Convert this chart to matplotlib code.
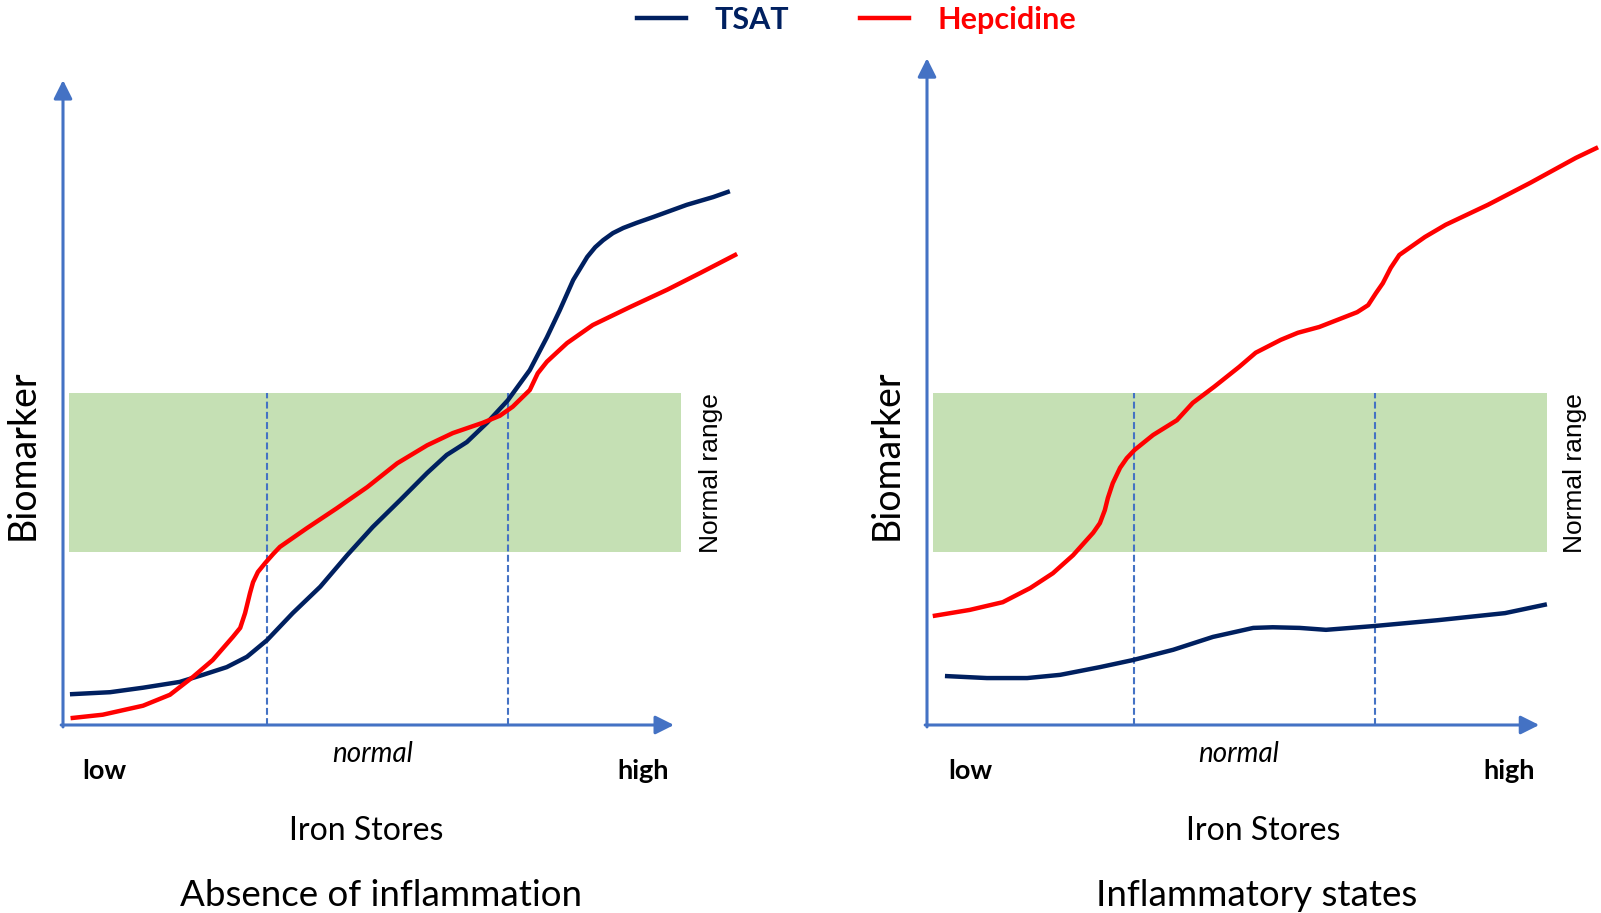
import matplotlib.pyplot as plt

plt.rcParams['font.family'] = ['Lato', 'DejaVu Sans']

# --- data (arbitrary units: x = iron stores 0..10, y = biomarker level) ---
left_tsat_x = [0.15, 0.77, 1.31, 1.91, 2.29, 2.68, 3.01, 3.34, 3.76, 4.21, 4.65, 5.07,
               5.52, 5.96, 6.28, 6.61, 6.94, 7.28, 7.64, 7.92, 8.13, 8.35, 8.58, 8.71,
               8.84, 9.00, 9.17, 9.39, 9.66, 10.21, 10.64, 10.88]
left_tsat_y = [0.48, 0.51, 0.58, 0.67, 0.78, 0.90, 1.06, 1.32, 1.74, 2.15, 2.64, 3.08,
               3.50, 3.92, 4.20, 4.40, 4.70, 5.05, 5.52, 6.03, 6.45, 6.92, 7.28, 7.43,
               7.54, 7.65, 7.73, 7.81, 7.90, 8.09, 8.21, 8.29]

left_hep_x = [0.16, 0.65, 1.31, 1.75, 2.13, 2.45, 2.78, 2.90, 2.98, 3.06, 3.11, 3.19,
              3.31, 3.44, 3.55, 3.99, 4.48, 4.98, 5.47, 5.96, 6.38, 6.87, 7.15, 7.36,
              7.64, 7.77, 7.92, 8.09, 8.25, 8.46, 8.67, 9.28, 9.89, 10.43, 11.0]
left_hep_y = [0.11, 0.16, 0.30, 0.47, 0.75, 1.01, 1.37, 1.51, 1.74, 2.05, 2.22, 2.38,
              2.52, 2.66, 2.77, 3.06, 3.37, 3.70, 4.07, 4.35, 4.54, 4.70, 4.81, 4.95,
              5.21, 5.47, 5.65, 5.80, 5.94, 6.08, 6.22, 6.50, 6.77, 7.03, 7.31]

right_tsat_x = [0.33, 0.98, 1.64, 2.18, 2.83, 3.37, 4.03, 4.68, 5.34, 5.66, 6.10, 6.53,
                7.33, 8.36, 9.46, 10.11]
right_tsat_y = [0.76, 0.73, 0.73, 0.78, 0.90, 1.01, 1.17, 1.37, 1.51, 1.52, 1.51, 1.48,
                1.54, 1.63, 1.74, 1.87]

right_hep_x = [0.13, 0.70, 1.24, 1.69, 2.06, 2.39, 2.72, 2.83, 2.91, 2.96, 3.04, 3.16,
               3.27, 3.40, 3.70, 4.09, 4.35, 4.70, 5.11, 5.38, 5.79, 6.07, 6.42, 7.04,
               7.22, 7.35, 7.46, 7.59, 7.73, 7.91, 8.15, 8.49, 9.18, 9.87, 10.62, 10.95]
right_hep_y = [1.70, 1.79, 1.91, 2.13, 2.36, 2.64, 2.99, 3.14, 3.34, 3.53, 3.76, 4.00,
               4.15, 4.28, 4.51, 4.74, 5.01, 5.26, 5.57, 5.79, 5.99, 6.10, 6.19, 6.42,
               6.53, 6.72, 6.87, 7.11, 7.31, 7.43, 7.59, 7.78, 8.09, 8.43, 8.82, 8.97]

band_low, band_high = 2.69, 5.16
left_normal = [3.34, 7.28]
right_normal = [3.39, 7.33]
titles = ['Absence of inflammation', 'Inflammatory states']

# colours
navy = '#002060'
red = '#FF0000'
blue = '#4472C4'
green = '#C5E0B4'

W, H = 1601, 913
XS, YS = 61.1, 64.3  # pixels per unit
XLIM = (-1.0, 11.2)
YLIM = (-3.0, 11.2)

fig = plt.figure(figsize=(W / 100, H / 100), dpi=100)


def make_panel(ox, oy):
    left = (ox + XLIM[0] * XS) / W
    width = (XLIM[1] - XLIM[0]) * XS / W
    bottom = (H - (oy - YLIM[0] * YS)) / H
    height = (YLIM[1] - YLIM[0]) * YS / H
    ax = fig.add_axes([left, bottom, width, height])
    ax.set_xlim(XLIM)
    ax.set_ylim(YLIM)
    ax.axis('off')
    return ax


def draw_panel(ax, tsat_x, tsat_y, hep_x, hep_y, normal, title, xs_label, x_title,
               ytop, xtip, band_right, dx):
    # normal range band
    ax.fill_between([0.1, band_right], band_low, band_high, color=green, lw=0, zorder=1)
    # normal iron store limits
    for xv in normal:
        ax.plot([xv, xv], [0, band_high], color=blue, lw=1.5, dashes=(3.3, 1.6), zorder=2)
    # axes arrows
    arrow = dict(arrowstyle='-|>,head_length=0.4,head_width=0.2', color=blue, lw=2.2,
                 mutation_scale=28, shrinkA=0, shrinkB=0)
    ax.annotate('', xy=(0, ytop), xytext=(0, -0.03), arrowprops=arrow, zorder=3)
    ax.annotate('', xy=(xtip, 0), xytext=(-0.03, 0), arrowprops=arrow, zorder=3)
    # curves
    l1, = ax.plot(tsat_x, tsat_y, color=navy, lw=3.2, zorder=4, label='TSAT',
                  solid_joinstyle='round')
    l2, = ax.plot(hep_x, hep_y, color=red, lw=3.2, zorder=5, label='Hepcidine',
                  solid_joinstyle='round')
    # labels
    ax.text(0.67 + dx, -0.72, 'low', ha='center', va='center', fontsize=19.5, fontweight='bold')
    ax.text(9.49 + dx, -0.72, 'high', ha='center', va='center', fontsize=19.5, fontweight='bold')
    ax.text(5.06 + dx, -0.45, 'normal', ha='center', va='center', fontsize=20, style='italic')
    ax.text(xs_label, -1.65, 'Iron Stores', ha='center', va='center', fontsize=23)
    ax.text(x_title, -2.65, title, ha='center', va='center', fontsize=26.5)
    ax.text(-0.66, 4.2, 'Biomarker', ha='center', va='center', rotation=90, fontsize=27)
    ax.text(10.6, 3.92, 'Normal range', ha='center', va='center', rotation=90,
            fontsize=19, family=['Liberation Sans', 'DejaVu Sans'])
    return l1, l2


ax1 = make_panel(63, 725)
h1, h2 = draw_panel(ax1, left_tsat_x, left_tsat_y, left_hep_x, left_hep_y, left_normal,
                    titles[0], 4.96, 5.2, 10.03, 10.0, 10.11, 0.0)
ax2 = make_panel(927, 725)
draw_panel(ax2, right_tsat_x, right_tsat_y, right_hep_x, right_hep_y, right_normal,
           titles[1], 5.50, 5.40, 10.37, 10.02, 10.15, 0.04)

leg = fig.legend([h1, h2], ['TSAT', 'Hepcidine'], loc='center', bbox_to_anchor=(0.535, 0.978),
                 ncol=2, frameon=False, handlelength=1.6, handletextpad=0.95, columnspacing=2.3,
                 prop={'weight': 'bold', 'size': 22}, labelcolor='linecolor', borderpad=0)

fig.savefig('out.png', dpi=100)
